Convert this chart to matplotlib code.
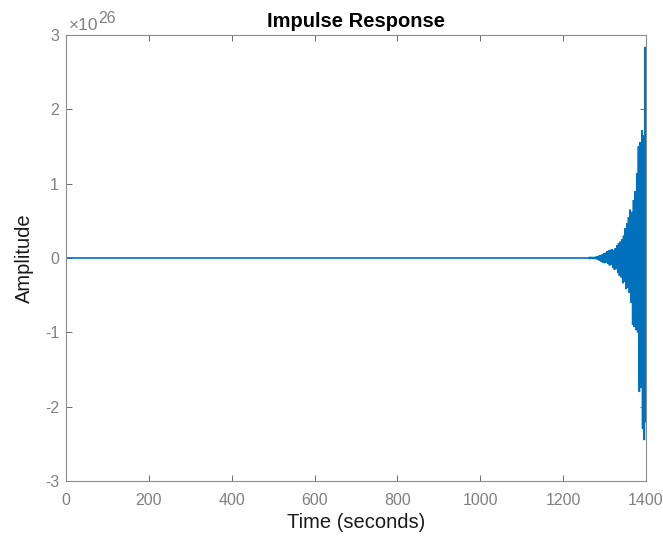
import numpy as np
import matplotlib
matplotlib.use("Agg")
import matplotlib.pyplot as plt

plt.rcParams['font.family'] = ['Liberation Sans', 'DejaVu Sans']
plt.rcParams['axes.unicode_minus'] = False

# impulse response samples (amplitude in units of 1e26)
t_quiet = [0, 1260]
y_quiet = [0.0, 0.0]
dt = 2  # sample spacing of the growing tail, seconds
t_tail_start = 1262
y_tail = [0.005, -0.006, 0.007, -0.008, 0.01, -0.01, 0.012, -0.013, 0.015, -0.016,
          0.02, -0.025, 0.03, -0.04, 0.04, -0.05, 0.045, -0.06, 0.06, -0.07,
          0.07, -0.06, 0.09, -0.08, 0.1, -0.1, 0.11, -0.09, 0.12, -0.13,
          0.1, -0.16, 0.13, -0.15, 0.17, -0.2, 0.2, -0.24, 0.22, -0.26,
          0.25, -0.34, 0.3, -0.32, 0.4, -0.42, 0.47, -0.4, 0.55, -0.47,
          0.65, -0.6, 0.62, -0.9, 0.78, -0.93, 0.9, -0.97, 1.14, -1.0,
          1.5, -1.8, 1.56, -1.75, 1.72, -2.3, 1.65, -2.45, 2.84, -2.2]
scale = 1e26

x_ticks = [0, 200, 400, 600, 800, 1000, 1200, 1400]
y_ticks = [-3, -2, -1, 0, 1, 2, 3]

t_tail = t_tail_start + dt * np.arange(len(y_tail))
t = np.concatenate([t_quiet, t_tail])
y = np.concatenate([y_quiet, y_tail]) * scale

fig = plt.figure(figsize=(6.63, 5.38), dpi=100)
ax = fig.add_axes([0.0995, 0.106, 0.8748, 0.829])

ax.plot(t, y, color='#0072BD', linewidth=1.2, solid_joinstyle='miter')

ax.set_xlim(0, 1400)
ax.set_ylim(-3 * scale, 3 * scale)
ax.set_xticks(x_ticks)
ax.set_xticklabels([str(v) for v in x_ticks])
ax.set_yticks([v * scale for v in y_ticks])
ax.set_yticklabels([str(v) for v in y_ticks])

gray = '#808080'
for s in ax.spines.values():
    s.set_color('#8c8c8c')
    s.set_linewidth(0.8)
ax.tick_params(direction='in', length=4, width=0.6, colors='#555555',
               labelcolor=gray, labelsize=11.5, top=True, right=True)
ax.tick_params(axis='x', pad=9)
ax.tick_params(axis='y', pad=5)

# exponent label: "x10" with a raised "26"
base = ax.text(0.005, 1.004, '\u00d710', transform=ax.transAxes,
               fontsize=12.5, color=gray, ha='left', va='bottom')
ax.annotate('26', xy=(1, 0.5), xycoords=base, fontsize=11.5, color=gray,
            ha='left', va='bottom')

ax.set_title('Impulse Response', fontsize=14.5, fontweight='bold', pad=6)
ax.set_xlabel('Time (seconds)', fontsize=14.5, color='#1a1a1a', labelpad=3)
ax.set_ylabel('Amplitude', fontsize=14.5, color='#1a1a1a', labelpad=8)

fig.savefig('out.png', dpi=100)
